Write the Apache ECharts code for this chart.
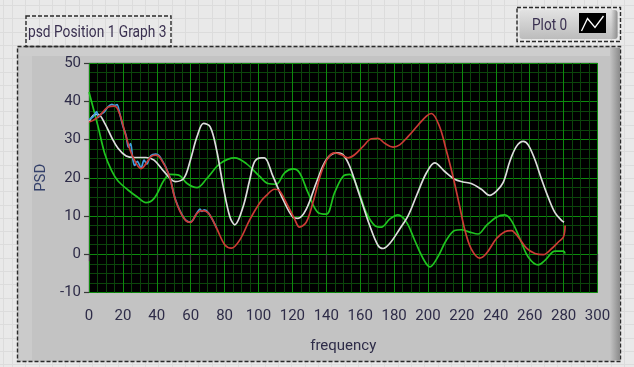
<!DOCTYPE html>
<html>
<head>
<meta charset="utf-8">
<script src="https://cdn.jsdelivr.net/npm/echarts@6/dist/echarts.min.js"></script>
<style>
html,body{margin:0;padding:0;}
#c{width:634px;height:367px;
background-color:#e9e9e9;
background-image:
 repeating-linear-gradient(to right, #dcdcdc 0px, #dcdcdc 1px, transparent 1px, transparent 13.3px),
 repeating-linear-gradient(to bottom, #dcdcdc 0px, #dcdcdc 1px, transparent 1px, transparent 13.3px);
background-position:12px 5px;}
</style>
</head>
<body>
<div id="c"></div>
<script>
const titleText = 'psd Position 1 Graph 3';
const legendText = 'Plot 0';
const xName = 'frequency';
const yName = 'PSD';
const xTicks = [0, 300, 20];
const yTicks = [-10, 50, 10];

const greenPts = [[0,42.4],[5.4,33.3],[9.3,26.3],[13.2,22],[17,19.2],[23,16.8],[28.7,14.9],[33.6,13.5],[38.4,14.6],[44.3,19.4],[48,20.9],[53,20.7],[57.9,18.5],[63.7,17.4],[69.5,19.8],[77.3,23.7],[86,25.2],[92.8,23.7],[100.6,20.4],[105.5,18.5],[110.4,18.3],[115.4,21.3],[120.3,22.3],[124.2,21.3],[129.2,16.1],[135.1,10.9],[140,10.5],[144.9,16.1],[149.9,20.4],[153.8,20.9],[158.7,17],[163.6,10.9],[168.6,7.5],[172.5,7.1],[177.4,9.2],[182.3,10.3],[187.3,8.4],[192.2,3.6],[197.1,-1.1],[201.1,-3.3],[205.8,-0.7],[210.7,3.6],[215.7,6.2],[219.6,6.4],[224.5,5.8],[229.5,5.3],[234.4,7.5],[240.4,9.7],[245.3,10.3],[249.2,8.8],[254.2,4.1],[259.1,-0.7],[265.1,-2.8],[269,-1.6],[275,0.8],[279.9,0.8],[280.9,0.2]];

const whitePts = [[0,34.6],[2.5,36.3],[5.4,36.6],[9.3,34.2],[13.2,30.7],[17.1,27.7],[21.9,25.7],[26.8,25.3],[33.6,25.3],[38.4,24.6],[44.3,21.6],[51,19],[56,19.9],[59.8,24.6],[63.7,30.7],[67.6,34.2],[71.5,33.3],[75.3,27.2],[79.2,17.7],[83.1,9.8],[86,7.7],[90.9,12.4],[94.8,19.4],[97.7,24.2],[101.6,25.2],[103.5,25.2],[108.5,20.4],[114.4,14.4],[120.3,9.7],[123.3,9.4],[128.2,11.8],[134.1,18.7],[140,24.7],[145.9,26.5],[149.9,26],[153.8,23],[159.7,15.3],[165.6,7.5],[170.5,2.3],[173.5,1.5],[177.4,2.8],[183.3,6.6],[188.3,10.1],[193.2,15.3],[199.1,21.3],[204,23.9],[209.7,21.7],[215.7,19.6],[220.6,18.9],[225.5,18.5],[231.5,17],[236.4,15.4],[240.4,16.5],[244.3,18.7],[248.3,24.3],[252.2,28.2],[256.2,29.5],[259.1,28.6],[263.1,24.7],[267,19.6],[271,14.8],[274.9,10.9],[278.9,8.8],[280.3,8.4]];

const bluePts = [[0,35.2],[2.5,36],[4.5,37.3],[5.5,35.8],[7,36.6],[9,37.2],[11.3,38.6],[13.5,39.2],[15.1,38.9],[16.5,39.1],[18,37],[20,33.5],[21.9,31],[23.3,28],[24.5,28.9],[25.8,25],[27,23.2],[28.5,24.3],[30.7,22.6],[32.5,24.6],[34,23.6],[36.5,25.8],[39.4,26.2],[42.3,25.2],[47.2,20.8],[51,14.3],[56,9.5],[59.8,8.4],[63.7,10.8],[65.5,11.8],[66.6,11.2],[68,11.6],[70.5,10.8],[75.3,6.9]];

const redPts = [[0,34.6],[2.5,35],[6.4,36.3],[11.3,38.5],[15.1,38.7],[18,36.8],[21.9,30.7],[25.8,25.5],[30.7,22.4],[36.5,25.5],[39.4,25.9],[42.3,25],[47.2,20.7],[51,14.2],[56,9.4],[59.8,8.3],[63.7,10.7],[66.6,11.4],[70.5,10.7],[75.3,6.8],[80.2,2.4],[84,1.6],[88.9,3.7],[94.8,9],[101,13.6],[104.5,15.3],[109.5,17],[112.4,16.6],[117.3,12.7],[121.3,9.2],[124.2,7.1],[128.2,8.4],[132.1,13.5],[137,21.3],[141,25.2],[144.9,26.5],[148.9,26],[152.8,25.2],[156.7,26],[161.7,28.2],[166.6,30.2],[170.5,30.3],[174.5,29],[179.4,28],[183.3,28.6],[188.3,30.8],[194.2,33.8],[199.1,36.1],[202,36.8],[206.8,33.4],[210.7,27.3],[214.7,20.4],[218.6,12.7],[221.6,6.6],[225.5,1.4],[230.5,-1],[234.4,0.2],[240.4,4.1],[245.3,5.9],[249.2,6.2],[253.2,4.5],[258.1,1.6],[263.1,0.2],[268,-0.1],[273,1.5],[276.9,3.2],[279.9,4.5],[280.9,7.5]];

const FONT = 'Roboto';
const txtColor = '#2e2c48';

const chart = echarts.init(document.getElementById('c'), null, {renderer:'canvas'});

function line(name, pts, color, z){
  return {name, type:'line', data:pts, smooth:0.35, showSymbol:false, symbol:'none',
    lineStyle:{color, width:1.7}, z, silent:true, animation:false};
}

chart.setOption({
  backgroundColor:'transparent',
  animation:false,
  graphic:[
    {type:'rect', z:-10, shape:{x:17.5,y:46.5,width:603,height:315}, style:{fill:'#c3c3c3', stroke:'#2a2a2a', lineWidth:1.4, lineDash:[4,2]}},
    {type:'rect', z:-9, shape:{x:19,y:48,width:13,height:312}, style:{fill:'#cbcbcb'}},
    {type:'rect', z:-9, shape:{x:19,y:48,width:600,height:8}, style:{fill:'#cdcdcd'}},
    {type:'rect', z:-9, shape:{x:610,y:48,width:10,height:312}, style:{fill:new echarts.graphic.LinearGradient(0,0,1,0,[{offset:0,color:'#c3c3c3'},{offset:1,color:'#8a8a8a'}])}},
    {type:'rect', z:-8, shape:{x:26,y:16,width:145,height:30.5}, style:{fill:'rgba(0,0,0,0)', stroke:'#2a2a2a', lineWidth:1.4, lineDash:[4,2]}},
    {type:'text', z:5, x:28, y:33, scaleX:0.81, originX:0, style:{x:0, y:0, text:titleText, fill:'#3a3050', font:'17px Roboto', textVerticalAlign:'middle'}},
    {type:'rect', z:-8, shape:{x:517,y:7.5,width:103.5,height:34}, style:{fill:'rgba(0,0,0,0)', stroke:'#2a2a2a', lineWidth:1.4, lineDash:[4,2]}},
    {type:'rect', z:-7, shape:{x:519.5,y:10,width:98,height:29,r:3}, style:{fill:new echarts.graphic.LinearGradient(0,0,0,1,[{offset:0,color:'#e2e2e2'},{offset:1,color:'#bcbcbc'}])}},
    {type:'rect', z:-6, shape:{x:611,y:10,width:6.5,height:29,r:[0,3,3,0]}, style:{fill:new echarts.graphic.LinearGradient(0,0,1,0,[{offset:0,color:'rgba(150,150,150,0)'},{offset:1,color:'#8e8e8e'}])}},
    {type:'text', z:5, x:532, y:26, scaleX:0.8, style:{x:0, y:0, text:legendText, fill:'#3a3050', font:'17px Roboto', textVerticalAlign:'middle'}},
    {type:'rect', z:5, shape:{x:579,y:13,width:27,height:20}, style:{fill:'#000'}},
    {type:'polyline', z:6, shape:{points:[[581.5,31],[587.5,18.5],[595,27.5],[603.5,16]]}, style:{stroke:'#fff', lineWidth:1.3, fill:null}}
  ],
  grid:{left:89, right:36.5, top:63, bottom:74.5, show:true, backgroundColor:'#000', borderColor:'#8a8a8a', borderWidth:1},
  xAxis:{type:'value', min:xTicks[0], max:xTicks[1], interval:xTicks[2],
    name:xName, nameLocation:'middle', nameGap:46,
    nameTextStyle:{color:txtColor, fontFamily:FONT, fontSize:15},
    axisLine:{show:false},
    axisTick:{show:true, inside:false, length:7, lineStyle:{color:'#3a3a3a', width:1.2}},
    axisLabel:{color:txtColor, fontFamily:FONT, fontSize:15, margin:16},
    splitLine:{show:true, lineStyle:{color:'#0d8a0d', width:1}},
    minorTick:{show:false, splitNumber:4},
    minorSplitLine:{show:true, lineStyle:{color:'#0b450b', width:1}}
  },
  yAxis:{type:'value', min:yTicks[0], max:yTicks[1], interval:yTicks[2],
    name:yName, nameLocation:'middle', nameGap:36, nameRotate:90,
    nameTextStyle:{color:'#34406a', fontFamily:FONT, fontSize:15},
    axisLine:{show:false},
    axisTick:{show:true, inside:false, length:5, lineStyle:{color:'#3a3a3a', width:1.2}},
    axisLabel:{color:txtColor, fontFamily:FONT, fontSize:15, margin:8},
    splitLine:{show:true, lineStyle:{color:'#0d8a0d', width:1}},
    minorTick:{show:false, splitNumber:4},
    minorSplitLine:{show:true, lineStyle:{color:'#0b450b', width:1}}
  },
  series:[
    line('green', greenPts, '#1fc41f', 3),
    line('white', whitePts, '#dcdcdc', 4),
    line('blue', bluePts, '#3f9fe0', 5),
    line('red', redPts, '#cc3b35', 6)
  ]
});
</script>
</body>
</html>
